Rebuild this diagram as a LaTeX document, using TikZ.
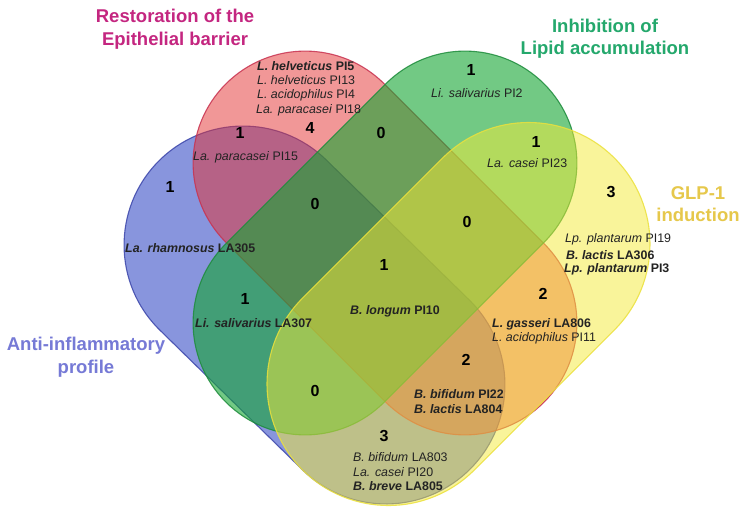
\documentclass[tikz,border=0pt]{standalone}
\usepackage{fontspec}
\setmainfont{Liberation Sans}
\definecolor{bluefill}{RGB}{19,45,189}
\definecolor{blueline}{RGB}{60,70,170}
\definecolor{redfill}{RGB}{229,49,49}
\definecolor{redline}{RGB}{200,50,80}
\definecolor{greenfill}{RGB}{20,165,50}
\definecolor{greenline}{RGB}{30,140,60}
\definecolor{yellowfill}{RGB}{245,235,55}
\definecolor{yellowline}{RGB}{235,225,60}
\definecolor{titleRed}{RGB}{196,38,128}
\definecolor{titleGreen}{RGB}{36,168,108}
\definecolor{titleYellow}{RGB}{230,200,75}
\definecolor{titleBlue}{RGB}{118,122,214}
\definecolor{labeltext}{RGB}{35,35,35}
\newcommand\bi[1]{\textbf{\textit{#1}}}
\begin{document}
\begin{tikzpicture}[x=1pt,y=-1pt,
  capsule/.style={line width=1.1pt, fill opacity=0.5, draw opacity=0.85},
  title/.style={font=\fontsize{18.5}{22.5}\selectfont\bfseries, align=center, inner sep=0pt},
  num/.style={font=\fontsize{16}{18}\selectfont\bfseries, inner sep=0pt, text=black},
  spc/.style={font=\fontsize{12.4}{14}\selectfont, anchor=west, inner sep=0pt, text=labeltext}]
\useasboundingbox (0,0) rectangle (748,517);
\fill[white] (0,0) rectangle (748,517);

% Anti-inflammatory profile (blue)
\begin{scope}[shift={(314.5,315)}, rotate=-44.4]
\filldraw[capsule, fill=bluefill, draw=blueline] (-100,-119) -- (100,-119) arc[start angle=-90,end angle=90,radius=119] -- (-100,119) arc[start angle=90,end angle=270,radius=119] -- cycle;
\end{scope}
% Restoration of the epithelial barrier (red)
\begin{scope}[shift={(385,243)}, rotate=-45]
\filldraw[capsule, fill=redfill, draw=redline] (-113,-112) -- (113,-112) arc[start angle=-90,end angle=90,radius=112] -- (-113,112) arc[start angle=90,end angle=270,radius=112] -- cycle;
\end{scope}
% Inhibition of lipid accumulation (green)
\begin{scope}[shift={(385,243)}, rotate=45]
\filldraw[capsule, fill=greenfill, draw=greenline, fill opacity=0.6] (-113,-112) -- (113,-112) arc[start angle=-90,end angle=90,radius=112] -- (-113,112) arc[start angle=90,end angle=270,radius=112] -- cycle;
\end{scope}
% GLP-1 induction (yellow)
\begin{scope}[shift={(458.5,314)}, rotate=45]
\filldraw[capsule, fill=yellowfill, draw=yellowline] (-99,-121.5) -- (99,-121.5) arc[start angle=-90,end angle=90,radius=121.5] -- (-99,121.5) arc[start angle=90,end angle=270,radius=121.5] -- cycle;
\end{scope}

% titles
\node[title, text=titleRed] (tRed) at (175,29) {Restoration of the\\Epithelial barrier};
\node[title, text=titleGreen] (tGreen) at (605,38.5) {Inhibition of\\Lipid accumulation};
\node[title, text=titleYellow] (tYellow) at (698,204) {GLP-1\\induction};
\node[title, text=titleBlue] (tBlue) at (86,357) {Anti-inflammatory\\profile};

% counts
\node[num] (n1) at (310,128) {4};
\node[num] (n2) at (240,133) {1};
\node[num] (n3) at (170,187) {1};
\node[num] (n4) at (315,204) {0};
\node[num] (n5) at (381,133) {0};
\node[num] (n6) at (471,70) {1};
\node[num] (n7) at (536,142) {1};
\node[num] (n8) at (611,192) {3};
\node[num] (n9) at (467,222) {0};
\node[num] (n10) at (384,265) {1};
\node[num] (n11) at (543,294) {2};
\node[num] (n12) at (245,299) {1};
\node[num] (n13) at (466,360) {2};
\node[num] (n14) at (315,391) {0};
\node[num] (n15) at (384,436) {3};

% strains
\node[spc] (s1) at (257,66) {\bi{L. helveticus} \textbf{PI5}};
\node[spc] (s2) at (257,80) {\textit{L. helveticus} PI13};
\node[spc] (s3) at (257,95) {\textit{L. acidophilus} PI4};
\node[spc] (s4) at (256,110) {\textit{La. paracasei} PI18};
\node[spc] (s5) at (193,157) {\textit{La. paracasei} PI15};
\node[spc] (s6) at (125,248) {\bi{La. rhamnosus} \textbf{LA305}};
\node[spc] (s7) at (431,93) {\textit{Li. salivarius} PI2};
\node[spc] (s8) at (487,163) {\textit{La. casei} PI23};
\node[spc] (s9) at (565,239) {\textit{Lp. plantarum} PI19};
\node[spc] (s10) at (566,255) {\bi{B. lactis} \textbf{LA306}};
\node[spc] (s11) at (564,269) {\bi{Lp. plantarum} \textbf{PI3}};
\node[spc] (s12) at (350,311) {\bi{B. longum} \textbf{PI10}};
\node[spc] (s13) at (195,323) {\bi{Li. salivarius} \textbf{LA307}};
\node[spc] (s14) at (492,324) {\bi{L. gasseri} \textbf{LA806}};
\node[spc] (s15) at (492,338) {\textit{L. acidophilus} PI11};
\node[spc] (s16) at (414,394) {\bi{B. bifidum} \textbf{PI22}};
\node[spc] (s17) at (414,409) {\bi{B. lactis} \textbf{LA804}};
\node[spc] (s18) at (353,457) {\textit{B. bifidum} LA803};
\node[spc] (s19) at (353,472) {\textit{La. casei} PI20};
\node[spc] (s20) at (353,486) {\bi{B. breve} \textbf{LA805}};
\end{tikzpicture}
\end{document}
